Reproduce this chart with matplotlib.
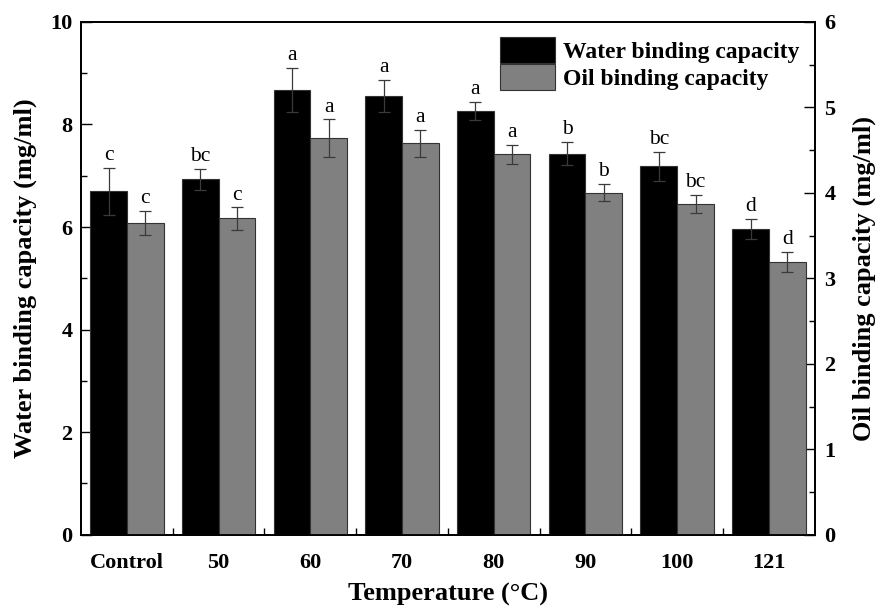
import matplotlib
matplotlib.use("Agg")
import matplotlib.pyplot as plt
import numpy as np
from matplotlib.ticker import MultipleLocator, FixedLocator
from matplotlib.patches import Patch

categories = ["Control", "50", "60", "70", "80", "90", "100", "121"]
water = [6.70, 6.93, 8.68, 8.56, 8.26, 7.43, 7.18, 5.96]
water_err = [0.46, 0.21, 0.43, 0.31, 0.18, 0.23, 0.29, 0.20]
water_letters = ["c", "bc", "a", "a", "a", "b", "bc", "d"]
oil = [3.65, 3.70, 4.64, 4.58, 4.45, 4.00, 3.87, 3.19]
oil_err = [0.14, 0.13, 0.22, 0.16, 0.11, 0.10, 0.11, 0.12]
oil_letters = ["c", "c", "a", "a", "a", "b", "bc", "d"]

plt.rcParams["font.family"] = ["Liberation Serif", "DejaVu Serif"]

fig = plt.figure(figsize=(8.77, 6.07), dpi=100)
ax = fig.add_axes([0.0924, 0.119, 0.929 - 0.0924, 0.964 - 0.119])
ax2 = ax.twinx()

x = np.arange(len(categories))
w = 0.4
ekw = dict(ecolor="#3a3a3a", elinewidth=0.9, capsize=4.5, capthick=0.9)
ax.bar(x - w / 2, water, w, color="black", edgecolor="#333333", linewidth=0.8,
       yerr=water_err, error_kw=ekw, zorder=2)
ax2.bar(x + w / 2, oil, w, color="#808080", edgecolor="#333333", linewidth=0.8,
        yerr=oil_err, error_kw=ekw, zorder=2)

for xi, v, e, t in zip(x, water, water_err, water_letters):
    ax.annotate(t, (xi - w / 2, v + e), xytext=(0, 2), textcoords="offset points",
                ha="center", va="bottom", fontsize=15.5)
for xi, v, e, t in zip(x, oil, oil_err, oil_letters):
    ax2.annotate(t, (xi + w / 2, v + e), xytext=(0, 2), textcoords="offset points",
                 ha="center", va="bottom", fontsize=15.5)

ax.set_xlim(-0.5, len(categories) - 0.5)
ax.set_ylim(0, 10)
ax2.set_ylim(0, 6)

ax.set_xticks(x)
ax.set_xticklabels(categories, fontsize=16, fontweight="bold")
ax.xaxis.set_minor_locator(FixedLocator(np.arange(0.5, len(categories) - 0.5, 1)))
ax.tick_params(axis="x", which="major", length=0, pad=13)
ax.tick_params(axis="x", which="minor", direction="in", length=5, width=1)

ax.yaxis.set_major_locator(MultipleLocator(2))
ax.yaxis.set_minor_locator(MultipleLocator(1))
ax.tick_params(axis="y", which="major", direction="in", length=8, width=1,
               labelsize=16, pad=6)
ax.tick_params(axis="y", which="minor", direction="in", length=4.5, width=1)
for lbl in ax.get_yticklabels():
    lbl.set_fontweight("bold")

ax2.yaxis.set_major_locator(MultipleLocator(1))
ax2.yaxis.set_minor_locator(MultipleLocator(0.5))
ax2.tick_params(axis="y", which="major", direction="in", length=8, width=1,
                labelsize=16, pad=7)
ax2.tick_params(axis="y", which="minor", direction="in", length=4.5, width=1)
for lbl in ax2.get_yticklabels():
    lbl.set_fontweight("bold")

for a in (ax, ax2):
    for s in a.spines.values():
        s.set_linewidth(1.3)

ax.set_xlabel("Temperature (°C)", fontsize=19, fontweight="bold", labelpad=7)
ax.set_ylabel("Water binding capacity (mg/ml)", fontsize=19, fontweight="bold", labelpad=10)
ax2.set_ylabel("Oil binding capacity (mg/ml)", fontsize=19, fontweight="bold", labelpad=12)

handles = [Patch(facecolor="black", edgecolor="#333333", linewidth=0.8),
           Patch(facecolor="#808080", edgecolor="#333333", linewidth=0.8)]
leg = ax2.legend(handles, ["Water binding capacity", "Oil binding capacity"],
                 loc="upper right", frameon=False, prop={"size": 17, "weight": "bold"},
                 handlelength=2.3, handleheight=1.3, handletextpad=0.35,
                 labelspacing=0.05, borderaxespad=0.25)

fig.savefig("out.png", dpi=100)
